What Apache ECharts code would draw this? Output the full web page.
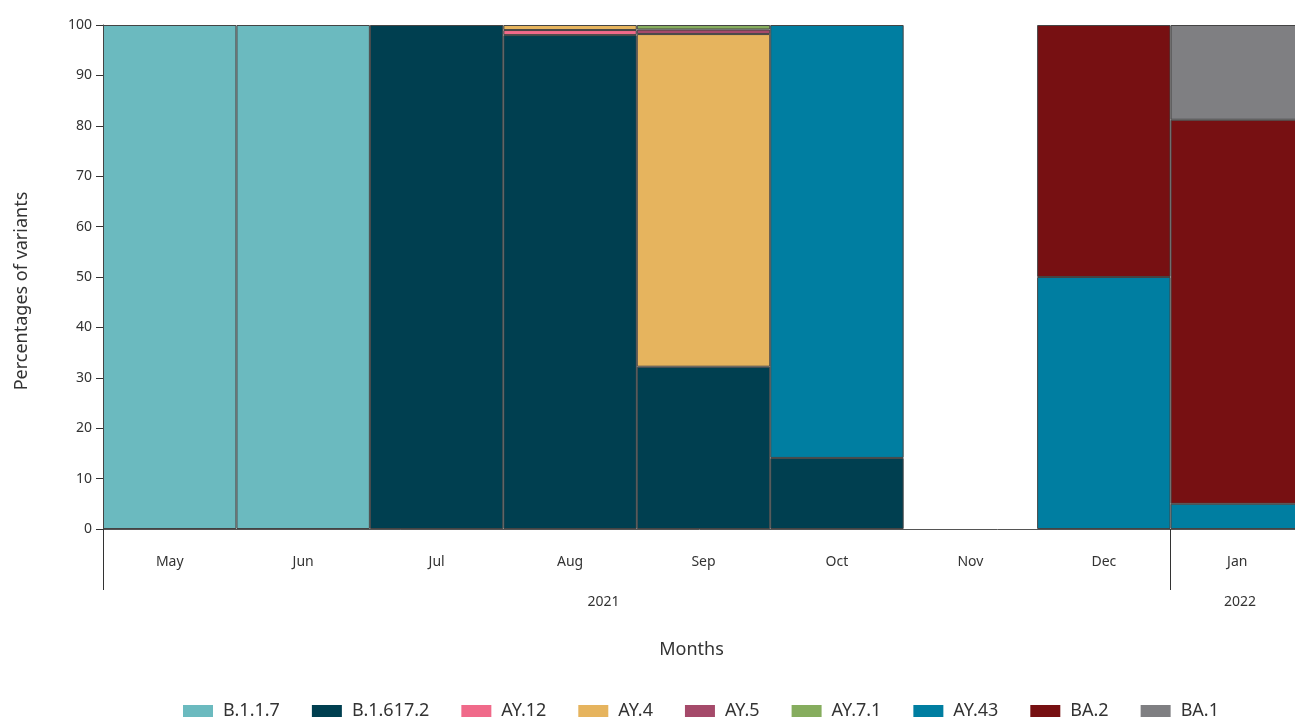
<!DOCTYPE html>
<html>
<head>
<meta charset="utf-8">
<script src="https://cdn.jsdelivr.net/npm/echarts@6/dist/echarts.min.js"></script>
<style>html,body{margin:0;padding:0;background:#fff}#c{width:1295px;height:720px}</style>
</head>
<body>
<div id="c"></div>
<script>
const months = ['May','Jun','Jul','Aug','Sep','Oct','Nov','Dec','Jan'];
const yearLabels = ['2021','2022'];
const yearLabelPos = [3.75, 8.52];
const yearTicks = [0, 8];
const yTicks = [0,10,20,30,40,50,60,70,80,90,100];

const B117   = [100, 100, null, null, null, null, null, null, null];
const B16172 = [null, null, 100, 98, 32.2, 14.1, null, null, null];
const AY12   = [null, null, null, 1, null, null, null, null, null];
const AY4    = [null, null, null, 1, 66, null, null, null, null];
const AY5    = [null, null, null, null, 0.9, null, null, null, null];
const AY71   = [null, null, null, null, 0.9, null, null, null, null];
const AY43   = [null, null, null, null, null, 85.9, null, 50, 5];
const BA2    = [null, null, null, null, null, null, null, 50, 76.2];
const BA1    = [null, null, null, null, null, null, null, null, 18.8];

const seriesDefs = [
  ['B.1.1.7', B117, '#6bbabf'],
  ['B.1.617.2', B16172, '#003f50'],
  ['AY.12', AY12, '#f06a8a'],
  ['AY.4', AY4, '#e6b45e'],
  ['AY.5', AY5, '#a54a6a'],
  ['AY.7.1', AY71, '#86ad5e'],
  ['AY.43', AY43, '#007ea1'],
  ['BA.2', BA2, '#771012'],
  ['BA.1', BA1, '#7f7f82']
];

const chart = echarts.init(document.getElementById('c'));
const font = 'Noto Sans';
chart.setOption({
  animation: false,
  textStyle: {fontFamily: font},
  grid: {left: 103, top: 25, bottom: 191, width: 1201, outerBoundsMode: 'none', containLabel: false},
  legend: {
    left: 178, top: 697,
    itemWidth: 30, itemHeight: 12, itemGap: 32,
    icon: 'rect',
    itemStyle: {borderWidth: 0},
    textStyle: {fontSize: 18, color: '#333', fontFamily: font, padding: [0, 0, 0, 5]},
    data: seriesDefs.map(s => s[0])
  },
  xAxis: [
    {
      type: 'category', data: months,
      axisLine: {show: true, lineStyle: {color: '#555', width: 1}},
      axisTick: {show: false},
      axisLabel: {color: '#333', fontSize: 14, margin: 26},
      name: 'Months', nameLocation: 'middle', nameGap: 112,
      nameTextStyle: {fontSize: 18, color: '#333', padding: [0, 24, 0, 0]}
    },
    {
      type: 'value', min: 0, max: 9, position: 'bottom',
      axisLine: {show: false},
      splitLine: {show: false},
      axisTick: {show: true, length: 61, customValues: yearTicks, lineStyle: {color: '#333', width: 1}},
      axisLabel: {
        show: true, customValues: yearLabelPos, margin: 66, color: '#333', fontSize: 14,
        formatter: function (v) { const i = yearLabelPos.indexOf(v); return i >= 0 ? yearLabels[i] : ''; }
      }
    }
  ],
  yAxis: {
    type: 'value', min: 0, max: 100, interval: 10,
    axisLine: {show: true, lineStyle: {color: '#333'}},
    axisTick: {show: true, length: 7, lineStyle: {color: '#333'}},
    splitLine: {show: false},
    axisLabel: {color: '#333', fontSize: 14, margin: 11,
      formatter: v => yTicks.indexOf(v) >= 0 ? String(v) : ''},
    name: 'Percentages of variants', nameLocation: 'middle', nameGap: 72,
    nameTextStyle: {fontSize: 18, color: '#333', padding: [0, 28, 0, 0]}
  },
  series: seriesDefs.map(s => ({
    name: s[0], type: 'bar', stack: 'all', data: s[1],
    xAxisIndex: 0,
    barCategoryGap: '0%',
    itemStyle: {color: s[2], borderColor: '#444', borderWidth: 1}
  }))
});
</script>
</body>
</html>
